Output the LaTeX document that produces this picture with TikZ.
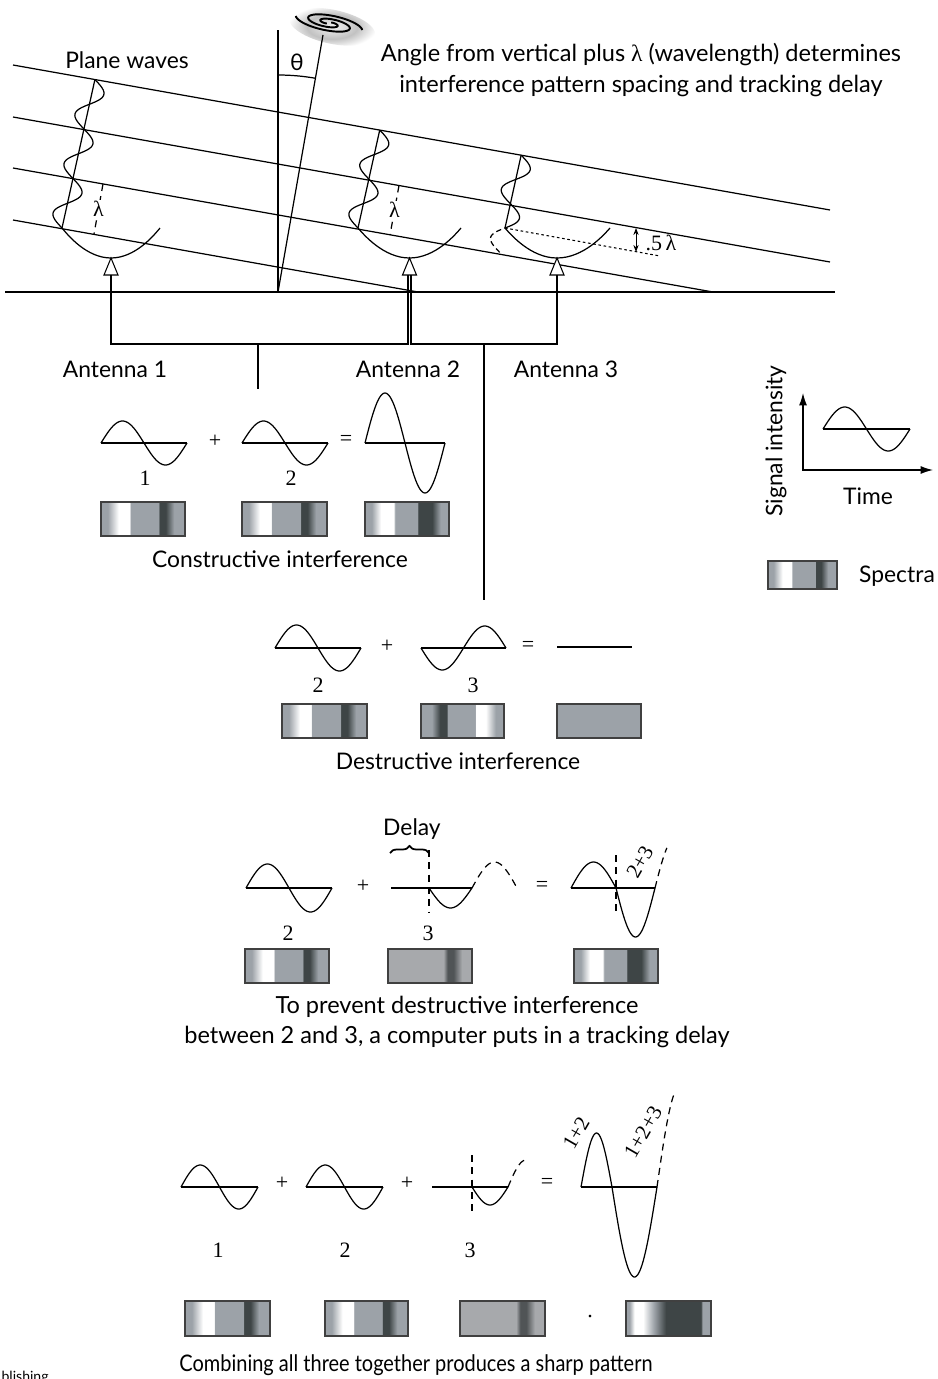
\documentclass[tikz,border=0pt]{standalone}
\usepackage{fontspec}
\setmainfont{Lato}
\newfontfamily\numfont{Liberation Serif}
\usetikzlibrary{arrows.meta,decorations.pathreplacing}

\definecolor{specgray}{RGB}{156,162,168}
\definecolor{specdark}{RGB}{62,69,70}
\definecolor{speclight}{RGB}{167,169,172}
\definecolor{specdim}{RGB}{80,84,86}

% spectra strips (25bp = left edge, 75bp = right edge)
\pgfdeclarehorizontalshading{specA}{100bp}{color(0bp)=(specgray); color(29bp)=(specgray); color(35.5bp)=(white); color(42bp)=(white); color(42.6bp)=(specgray); color(59.25bp)=(specgray); color(59.75bp)=(specdark); color(63.5bp)=(specdark); color(68.5bp)=(specgray); color(100bp)=(specgray)}
\pgfdeclarehorizontalshading{specB}{100bp}{color(0bp)=(specgray); color(31.5bp)=(specgray); color(36.5bp)=(specdark); color(40.5bp)=(specdark); color(41bp)=(specgray); color(57.5bp)=(specgray); color(58bp)=(white); color(64bp)=(white); color(70bp)=(specgray); color(100bp)=(specgray)}
\pgfdeclarehorizontalshading{specC}{100bp}{color(0bp)=(specgray); color(29bp)=(specgray); color(34.5bp)=(white); color(42bp)=(white); color(43bp)=(specgray); color(56bp)=(specgray); color(56.75bp)=(specdark); color(65bp)=(specdark); color(70bp)=(specgray); color(100bp)=(specgray)}
\pgfdeclarehorizontalshading{specE}{100bp}{color(0bp)=(speclight); color(58bp)=(speclight); color(60.5bp)=(specdim); color(64bp)=(specdim); color(69bp)=(speclight); color(100bp)=(speclight)}
\pgfdeclarehorizontalshading{specF}{100bp}{color(0bp)=(specgray); color(27bp)=(specgray); color(30bp)=(white); color(35bp)=(white); color(41.5bp)=(specgray); color(48.5bp)=(specdark); color(69bp)=(specdark); color(70bp)=(specgray); color(100bp)=(specgray)}
\pgfdeclareradialshading{halo}{\pgfpoint{0bp}{0bp}}{color(0bp)=(black!5); color(14bp)=(black!24); color(25bp)=(white); color(50bp)=(white)}

% baseline plus one period of a sine
\newcommand{\sinewave}[5]{%
  \draw (#1,#2) -- ++(#3,0);
  \draw plot[domain=0:360, samples=61, smooth] ({#1+\x/360*#3}, {#2-(#5)*#4*sin(\x)});
}

\begin{document}
\begin{tikzpicture}[x=0.02cm, y=-0.02cm, line width=0.7pt,
  font=\fontsize{13}{17.6}\selectfont,
  num/.style={font=\numfont\fontsize{12.5}{14}\selectfont},
  sumlbl/.style={font=\numfont\fontsize{12}{14}\selectfont, rotate=60, inner sep=1pt},
  spec/.style={draw=black!75, line width=0.6pt},
  feed/.style={draw, fill=white, line width=0.6pt},
  dash1/.style={dash pattern=on 4pt off 3pt},
  dots1/.style={dash pattern=on 1.5pt off 1.5pt, line width=0.6pt}]
\useasboundingbox (0,0) rectangle (937,1379);

% ---------- sky and antennas ----------
\begin{scope}[shift={(329,23)}, rotate=-12]
  \shade[shading=halo] (4,3) ellipse (44 and 17);
  \begin{scope}[yscale=0.28]
    \foreach \a in {0,180}
      \draw[line width=1.1pt, rotate=\a] plot[domain=0:1, samples=60, smooth]
        ({(4+30*\x)*cos(120+420*\x)}, {(4+30*\x)*sin(120+420*\x)});
  \end{scope}
\end{scope}

\draw (5,292) -- (835,292);
\draw (278,30) -- (278,292);
\draw (278,292) -- (323,35);
\draw (278,292) ++(-90:217) arc[start angle=-90, end angle=-80, radius=217];
\node (theta) at (297,62) {θ};

% wavefronts
\draw (13,65) -- (830,210);
\draw (13,117) -- (830,262);
\draw (13,168) -- (713,292);
\draw (13,220) -- (418,292);

% incoming waves
\begin{scope}[shift={(62,228)}, rotate=-12.5]
  \draw (0,0) -- (0,-152.1);
  \draw plot[domain=0:152.1, samples=90, smooth] ({12*sin((152.1-\x)*7.1006)}, {-\x});
\end{scope}
\begin{scope}[shift={(358,228)}, rotate=-12.5]
  \draw (0,0) -- (0,-100.3);
  \draw plot[domain=0:100.3, samples=70, smooth] ({12*sin((100.3-\x)*7.1785)}, {-\x});
\end{scope}
\begin{scope}[shift={(505,228)}, rotate=-12.5]
  \draw (0,0) -- (0,-74.6);
  \draw plot[domain=0:74.6, samples=60, smooth] ({12*sin((74.6-\x)*7.2391)}, {-\x});
  \draw[densely dashed] plot[domain=-24.9:0, samples=20, smooth] ({12*sin((74.6-\x)*7.2391)}, {-\x});
\end{scope}

% dishes
\draw (62,228) parabola bend (111,258) (160,228);
\draw (358,228) parabola bend (409.5,258) (461,228);
\draw (505,228) parabola bend (557,258) (610,228);

\draw[dash1] (103,184) -- (94,234);
\node[num, fill=white, inner sep=1pt] (lam1) at (98.5,209) {λ};
\draw[dash1] (399,185.5) -- (390,235);
\node[num, fill=white, inner sep=1pt] (lam2) at (394.5,210) {λ};

\draw[dots1] (505,228) -- (660,256);
\draw[{Stealth[length=4pt,width=3pt]}-{Stealth[length=4pt,width=3pt]}, line width=0.5pt] (636,228) -- (636,252);
\node[num] (half) at (661,243) {.5\,λ};

% feeds and wiring
\draw[feed] (111,258) -- (104,275) -- (118,275) -- cycle;
\draw[feed] (409.5,258) -- (402.5,275) -- (416.5,275) -- cycle;
\draw[feed] (557,258) -- (550,275) -- (564,275) -- cycle;
\coordinate (feed1) at (111,275);
\coordinate (feed2a) at (408,275);
\coordinate (feed2b) at (411,275);
\coordinate (feed3) at (557,275);
\coordinate (bus12) at (258,344);
\coordinate (bus23) at (484,344);
\coordinate (out12) at (258,389);
\coordinate (out23) at (484,600);
\draw (feed1) |- (bus12) -| (feed2a);
\draw (feed2b) |- (bus23) -| (feed3);
\draw (bus12) -- (out12);
\draw (bus23) -- (out23);

\node (plane) at (127,60) {Plane waves};
\node[align=center, font=\fontsize{13.4}{17.6}\selectfont] (angle) at (641,70) {Angle from vertical plus {\numfont λ} (wavelength) determines\\interference pattern spacing and tracking delay};
\node (ant1) at (115,369) {Antenna 1};
\node (ant2) at (408,369) {Antenna 2};
\node (ant3) at (566,369) {Antenna 3};

% ---------- constructive ----------
\sinewave{101}{443}{86}{22}{1}
\sinewave{242}{443}{86}{22}{1}
\sinewave{365}{443}{80}{50}{1}
\node[num] (c1) at (145,478) {1};
\node[num] (c2) at (291,478) {2};
\node[num] (cplus) at (215,441) {+};
\node[num] (ceq) at (346,440) {=};
\shadedraw[spec, shading=specA] (101,502) rectangle (185,536);
\shadedraw[spec, shading=specA] (242,502) rectangle (327,536);
\shadedraw[spec, shading=specC] (365,502) rectangle (449,536);
\node (constr) at (280,559) {Constructive interference};

% ---------- destructive ----------
\sinewave{275}{648}{86}{23}{1}
\sinewave{421}{648}{85}{22}{-1}
\draw (557,647) -- (632,647);
\node[num] (dplus) at (387,646) {+};
\node[num] (deq) at (528,646) {=};
\node[num] (d2) at (318,685) {2};
\node[num] (d3) at (473,685) {3};
\shadedraw[spec, shading=specA] (282,704) rectangle (367,738);
\shadedraw[spec, shading=specB] (421,704) rectangle (504,738);
\draw[spec, fill=specgray] (557,704) rectangle (641,738);
\node (destr) at (458,761) {Destructive interference};

% ---------- tracking delay ----------
\node (delay) at (412,829) {Delay};
\draw[decorate, decoration={brace, amplitude=4pt}, line width=1pt] (390,853) -- (429,853);
\sinewave{246}{888}{86}{24}{1}
\node[num] (tplus) at (363,886) {+};
\draw (391,888) -- (472,888);
\draw[dash1, line width=0.6pt] (429,850) -- (429,913);
\draw plot[domain=0:180, samples=30, smooth] ({429+\x/180*43}, {888+20*sin(\x)});
\draw[dash1] plot[domain=0:180, samples=30, smooth] ({472+\x/180*45}, {888-26*sin(\x)});
\node[num] (teq) at (542,886) {=};
\draw (571,888) -- (655,888);
\draw plot[domain=0:180, samples=30, smooth] ({571+\x/180*45}, {888-26*sin(\x)});
\draw plot[domain=0:180, samples=30, smooth] ({616+\x/180*39}, {888+49*sin(\x)});
\draw[dash1] plot[domain=0:55, samples=12, smooth] ({655+\x/180*39}, {888-49*sin(\x)});
\draw[dash1, line width=0.6pt] (616,855) -- (616,913);
\node[sumlbl] (t23) at (640,862) {2+3};
\node[num] (t2) at (288,933) {2};
\node[num] (t3) at (428,933) {3};
\shadedraw[spec, shading=specA] (245,949) rectangle (329,983);
\shadedraw[spec, shading=specE] (388,949) rectangle (472,983);
\shadedraw[spec, shading=specC] (574,949) rectangle (658,983);
\node[align=center, font=\fontsize{13.4}{17.6}\selectfont] (prevent) at (457,1022) {To prevent destructive interference\\between 2 and 3, a computer puts in a tracking delay};

% ---------- all three ----------
\sinewave{181}{1187}{77}{22}{1}
\sinewave{306}{1187}{77}{22}{1}
\node[num] (aplus1) at (282,1183) {+};
\node[num] (aplus2) at (407,1183) {+};
\draw (432,1187) -- (508,1187);
\draw[dash1, line width=0.6pt] (472,1155) -- (472,1213);
\draw plot[domain=0:180, samples=30, smooth] ({472+\x/180*36}, {1187+18*sin(\x)});
\draw[dash1] plot[domain=0:100, samples=20, smooth] ({508+\x/180*36}, {1187-27*sin(\x)});
\node[num] (aeq) at (547,1183) {=};
\draw (581,1187) -- (657,1187);
\draw plot[domain=0:180, samples=30, smooth] ({581+\x/180*31}, {1187-54*sin(\x)});
\draw plot[domain=0:180, samples=40, smooth] ({612+\x/180*45}, {1187+90*sin(\x)});
\draw[dash1] plot[domain=0:72, samples=15, smooth] ({657+\x/180*45}, {1187-100*sin(\x)});
\node[sumlbl] (a12) at (576,1133) {1+2};
\node[sumlbl] (a123) at (643,1132) {1+2+3};
\node[num] (a1) at (218,1250) {1};
\node[num] (a2) at (345,1250) {2};
\node[num] (a3) at (470,1250) {3};
\shadedraw[spec, shading=specA] (185,1301) rectangle (270,1336);
\shadedraw[spec, shading=specA] (325,1301) rectangle (408,1336);
\shadedraw[spec, shading=specE] (460,1301) rectangle (545,1336);
\shadedraw[spec, shading=specF] (626,1301) rectangle (711,1336);
\node[num] (dot) at (590,1316) {.};
\node (combine) at (416,1365) {\scalebox{0.875}[1]{Combining all three together produces a sharp pattern}};
\node[anchor=base west, inner sep=0pt, font=\fontsize{8}{9}\selectfont] (pub) at (1,1381) {blishing};

% ---------- key ----------
\draw[{Latex[length=7pt,width=4.5pt]}-{Latex[length=7pt,width=4.5pt]}] (803,393) |- (933,470);
\sinewave{823}{429}{87}{22}{1}
\node[rotate=90] (sig) at (776,441) {Signal intensity};
\node (time) at (868,496) {Time};
\shadedraw[spec, shading=specA] (768,561) rectangle (837,589);
\node (spectra) at (897,576) {Spectra};
\end{tikzpicture}
\end{document}
